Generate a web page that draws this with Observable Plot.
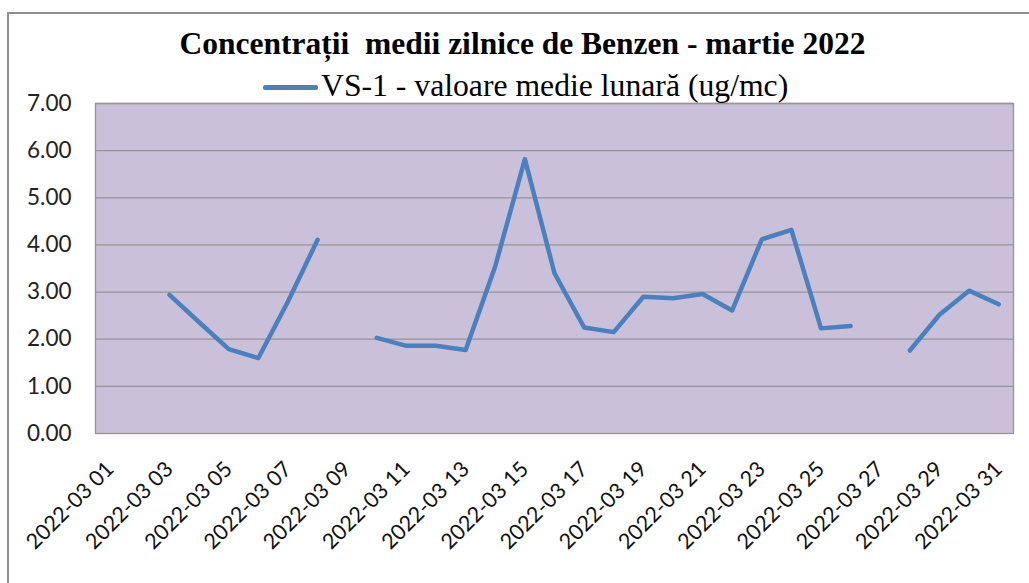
<!DOCTYPE html>
<html><head><meta charset="utf-8">
<script src="https://cdn.jsdelivr.net/npm/d3@7"></script>
<script src="https://cdn.jsdelivr.net/npm/@observablehq/plot@0.6"></script>
<style>
body{margin:0;background:#fff;width:1029px;height:583px;overflow:hidden;position:relative}
#border{position:absolute;left:7px;top:12px;width:1100px;height:700px;border:2px solid #8f8f8f;box-sizing:border-box}
#chart{position:absolute;left:0;top:0}
#title{position:absolute;left:0;width:1045px;top:28px;text-align:center;font:bold 31.5px "Liberation Serif";line-height:31.5px;white-space:pre;color:#000;z-index:2}
#legend{position:absolute;left:263px;top:70px;height:32px;display:flex;align-items:center;font:31.7px "Liberation Serif";line-height:32px;color:#000;z-index:2;white-space:pre}
#legend .sw{display:inline-block;width:55px;height:5px;background:#4a80bd;border-radius:2px;margin-right:3px;margin-top:2px}
</style>
</head><body>
<div id="border"></div>
<div id="chart"></div>
<div id="title">Concentrații  medii zilnice de Benzen - martie 2022</div>
<div id="legend"><span class="sw"></span><span id="legtext"></span></div>
<script>
const days = ["2022-03 01","2022-03 02","2022-03 03","2022-03 04","2022-03 05","2022-03 06","2022-03 07","2022-03 08","2022-03 09","2022-03 10","2022-03 11","2022-03 12","2022-03 13","2022-03 14","2022-03 15","2022-03 16","2022-03 17","2022-03 18","2022-03 19","2022-03 20","2022-03 21","2022-03 22","2022-03 23","2022-03 24","2022-03 25","2022-03 26","2022-03 27","2022-03 28","2022-03 29","2022-03 30","2022-03 31"];
const vs1 = [null,null,2.94,2.36,1.79,1.60,2.80,4.11,null,2.03,1.86,1.86,1.77,3.55,5.82,3.40,2.25,2.15,2.90,2.87,2.96,2.61,4.12,4.32,2.23,2.28,null,1.76,2.52,3.03,2.74];
const xTickLabels = ["2022-03 01","2022-03 03","2022-03 05","2022-03 07","2022-03 09","2022-03 11","2022-03 13","2022-03 15","2022-03 17","2022-03 19","2022-03 21","2022-03 23","2022-03 25","2022-03 27","2022-03 29","2022-03 31"];
const yTicks = [0,1,2,3,4,5,6,7];
const seriesName = "VS-1 - valoare medie lunară (ug/mc)";

document.getElementById("legtext").textContent = seriesName;

const data = days.map((d,i)=>({day:d, value:vs1[i]}));

const chart = Plot.plot({
  width:1029, height:583,
  marginLeft:95, marginRight:16, marginTop:103, marginBottom:150,
  style:{background:"transparent", fontFamily:"Lato", fontSize:"22px", color:"#222"},
  x:{type:"point", domain:days, padding:0.5, round:false, label:null},
  y:{domain:[0,7], label:null},
  marks:[
    Plot.frame({fill:"#cbc0da", stroke:null}),
    Plot.gridY({ticks:yTicks.filter(v=>v>0), stroke:"#939393", strokeOpacity:1, strokeWidth:1.3}),
    Plot.frame({stroke:"#939393", strokeWidth:1.3}),
    Plot.line(data, {x:"day", y:"value", stroke:"#4a80bd", strokeWidth:4.5, strokeLinejoin:"round", strokeLinecap:"round"}),
    Plot.axisY({ticks:yTicks, tickFormat:d=>d.toFixed(2), tickSize:0, tickPadding:24, fontSize:22.5, fill:"#222"}),
    Plot.axisX({ticks:xTickLabels, tickSize:0, tickPadding:32, tickRotate:-45, fontSize:21.5, fill:"#111"})
  ]
});
document.getElementById("chart").appendChild(chart);
</script>
</body></html>
